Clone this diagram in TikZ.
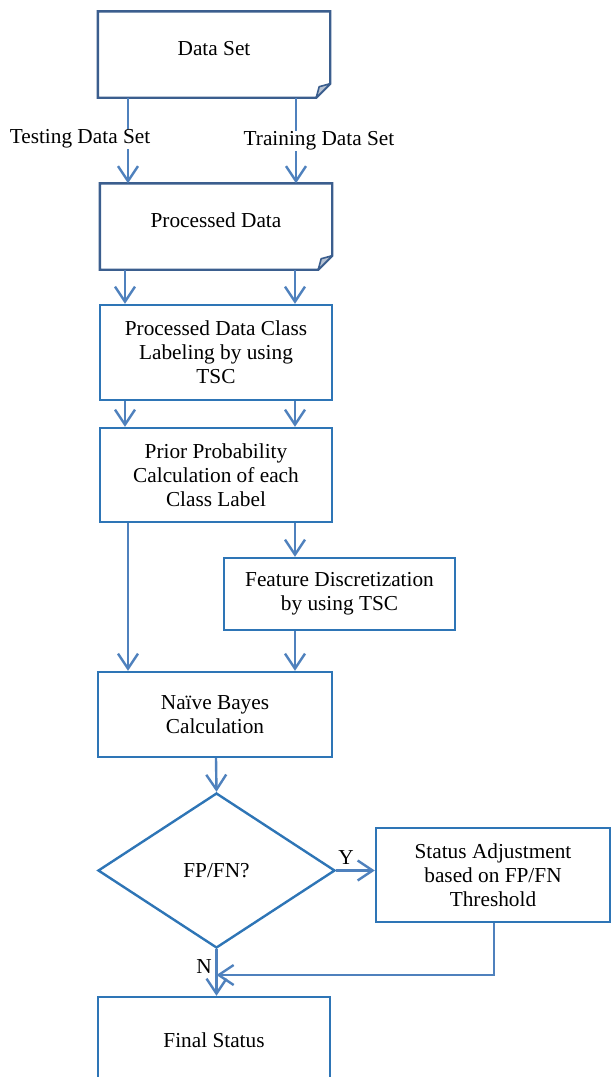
\documentclass[tikz,border=0pt]{standalone}
\usepackage{fontspec}
\setmainfont{Liberation Serif}
\usetikzlibrary{arrows.meta,shapes.geometric}
\definecolor{docblue}{HTML}{3B5E8E}
\definecolor{boxblue}{HTML}{2E75B6}
\definecolor{linkblue}{HTML}{4F81BD}
\definecolor{foldfill}{HTML}{B8C3D3}
\begin{document}
\begin{tikzpicture}[x=1pt,y=-1pt,
  every node/.style={font=\fontsize{21.3}{24}\selectfont},
  docbox/.style={minimum width=232pt,minimum height=86pt,inner sep=0pt,text depth=12pt},
  procbox/.style={draw=boxblue,line width=2.4pt,inner sep=0pt,align=center},
  dec/.style={draw=boxblue,line width=2.4pt,diamond,inner sep=0pt,minimum width=237pt,minimum height=155pt},
  arr/.style={draw=linkblue,line width=2.4pt,-{Straight Barb[length=15pt,width=20pt,line width=2.4pt]}},
  lbl/.style={fill=white,inner sep=1pt}]
\useasboundingbox (0,0) rectangle (611,1077);
\clip (0,0) rectangle (611,1077);
% document-shaped boxes
\node[docbox] (ds) at (214,54.5) {Data Set};
\node[docbox] (pd) at (216,226.5) {Processed Data};
\foreach \n in {ds,pd}{
  \draw[docblue,line width=2.4pt,line join=miter]
    ([xshift=-14pt]\n.south east) -- (\n.south west) -- (\n.north west) -- (\n.north east)
    -- ([yshift=14pt]\n.south east) -- cycle;
  \draw[docblue,line width=1.6pt,fill=foldfill,line join=round]
    ([xshift=-14pt]\n.south east) -- ([xshift=-11pt,yshift=11pt]\n.south east)
    -- ([yshift=14pt]\n.south east) -- cycle;
}
\node[procbox,minimum width=232pt,minimum height=95pt] (cl) at (216,352.5) {Processed Data Class\\Labeling by using\\TSC};
\node[procbox,minimum width=232pt,minimum height=94pt] (pp) at (216,475) {Prior Probability\\Calculation of each\\Class Label};
\node[procbox,minimum width=231pt,minimum height=72pt] (fd) at (339.5,594) {Feature Discretization\\by using TSC};
\node[procbox,minimum width=234pt,minimum height=85pt] (nb) at (215,714.5) {Naïve Bayes\\Calculation};
\node[dec] (dia) at (216.5,870.5) {FP/FN?};
\node[procbox,minimum width=234pt,minimum height=94pt] (st) at (493,875) {Status Adjustment\\based on FP/FN\\Threshold};
\node[procbox,minimum width=232pt,minimum height=86pt] (fin) at (214,1040) {Final Status};
% x positions of vertical links
\coordinate (La) at (128,0);
\coordinate (Lb) at (125,0);
\coordinate (Ra) at (296,0);
\coordinate (Rb) at (295,0);
\coordinate (M) at (216,0);
\coordinate (R) at (494,0);
\coordinate (J) at (0,975);
% links
\draw[arr] (ds.south -| La) -- (pd.north -| La);
\draw[arr] (ds.south -| Ra) -- (pd.north -| Ra);
\node[lbl] (tl) at (80,139) {Testing Data Set};
\node[lbl] (tr) at (319,141) {Training Data Set};
\draw[arr] (pd.south -| Lb) -- (cl.north -| Lb);
\draw[arr] (pd.south -| Rb) -- (cl.north -| Rb);
\draw[arr] (cl.south -| Lb) -- (pp.north -| Lb);
\draw[arr] (cl.south -| Rb) -- (pp.north -| Rb);
\draw[arr] (pp.south -| La) -- (nb.north -| La);
\draw[arr] (pp.south -| Rb) -- (fd.north -| Rb);
\draw[arr] (fd.south -| Rb) -- (nb.north -| Rb);
\draw[arr] (nb.south -| M) -- (dia.north);
\draw[arr] (dia.east) -- (dia.east -| st.west);
\node (y) at (346,858) {Y};
\draw[arr] (dia.south) -- (fin.north -| dia.south);
\node (n) at (204,967) {N};
\draw[arr] (st.south -| R) -- (J -| R) -- (J -| dia.south);
\end{tikzpicture}
\end{document}
